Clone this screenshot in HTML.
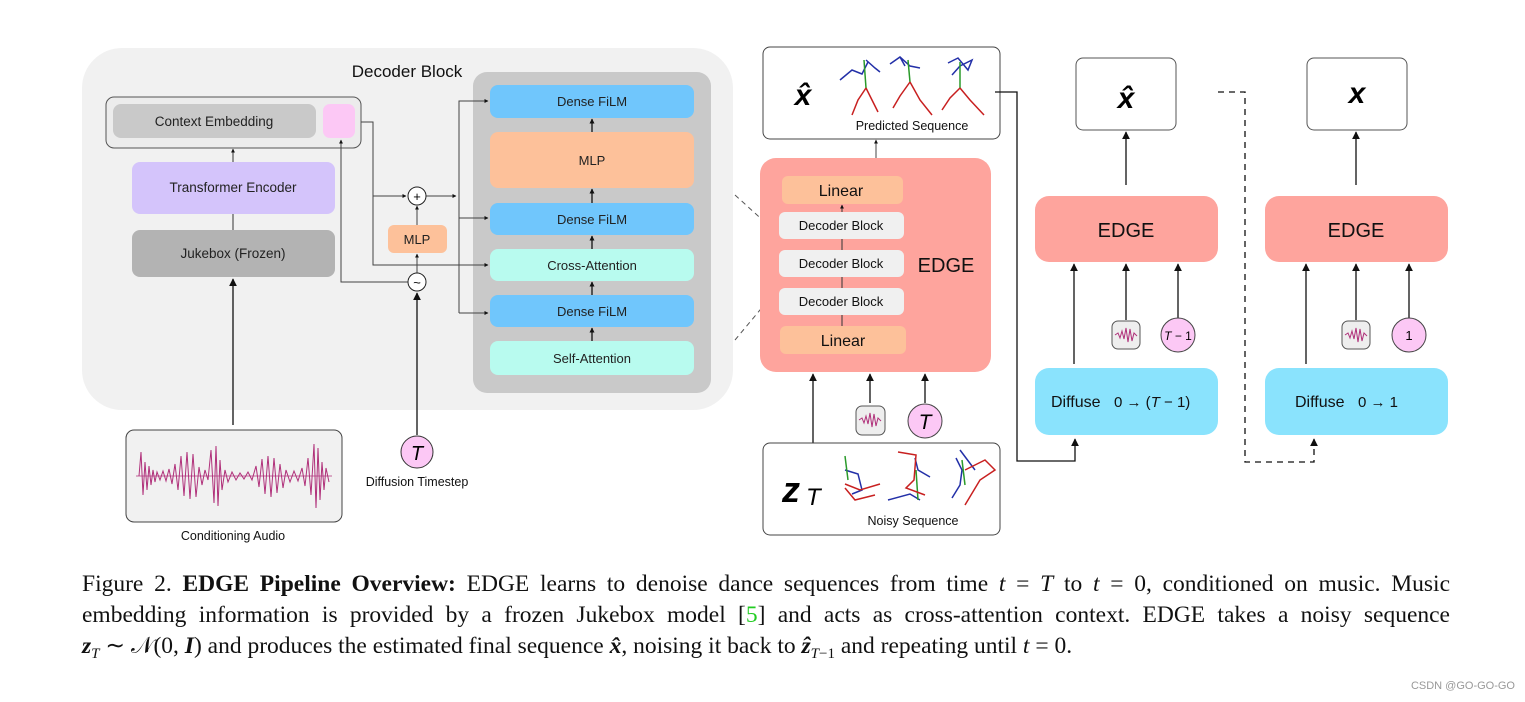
<!DOCTYPE html>
<html><head><meta charset="utf-8"><style>
html,body{margin:0;padding:0;background:#fff;width:1525px;height:702px;overflow:hidden}
svg{position:absolute;left:0;top:0}
text{font-family:"Liberation Sans",sans-serif}
.cap{position:absolute;left:82px;width:1368px;font-family:"Liberation Serif",serif;font-size:23.5px;line-height:28px;height:28px;white-space:nowrap;color:#111}
.j{text-align:justify;text-align-last:justify;white-space:normal}
.cap i{font-style:italic}
.cap sub{font-size:15px;vertical-align:0;position:relative;top:5px;line-height:0}
.wm{position:absolute;right:10px;top:680px;font-family:"Liberation Sans",sans-serif;font-size:11px;color:#999}
</style></head><body>
<svg width="1525" height="702" viewBox="0 0 1525 702">
<defs>
<marker id="a" viewBox="0 0 10 10" refX="9" refY="5" markerWidth="6" markerHeight="6" orient="auto-start-reverse"><path d="M0,0 L10,5 L0,10 z" fill="#111"/></marker>
<marker id="s" viewBox="0 0 10 10" refX="9" refY="5" markerWidth="4" markerHeight="4" orient="auto"><path d="M0,0 L10,5 L0,10 z" fill="#111"/></marker>
</defs>
<rect x="82" y="48" width="651" height="362" rx="40" fill="#f1f1f1"/>
<text x="407" y="77" font-size="17" text-anchor="middle" fill="#111">Decoder Block</text>
<rect x="106" y="97" width="255" height="51" rx="8" fill="#ececec" stroke="#555" stroke-width="1"/>
<rect x="113" y="104" width="203" height="34" rx="8" fill="#c9c9c9"/>
<text x="214" y="126" font-size="13.5" text-anchor="middle" fill="#222">Context Embedding</text>
<rect x="323" y="104" width="32" height="34" rx="7" fill="#fcc8f5"/>
<rect x="132" y="162" width="203" height="52" rx="8" fill="#d4c4fb"/>
<text x="233" y="192" font-size="13.5" text-anchor="middle" fill="#222">Transformer Encoder</text>
<rect x="132" y="230" width="203" height="47" rx="8" fill="#b3b3b3"/>
<text x="233" y="258" font-size="13.5" text-anchor="middle" fill="#222">Jukebox (Frozen)</text>
<line x1="233" y1="230" x2="233" y2="214" stroke="#333"/>
<line x1="233" y1="162" x2="233" y2="149" stroke="#333" marker-end="url(#s)"/>
<rect x="473" y="72" width="238" height="321" rx="14" fill="#c9c9c9"/>
<rect x="490" y="85" width="204" height="33" rx="8" fill="#70c6fc"/>
<text x="592" y="106" font-size="13" text-anchor="middle" fill="#222">Dense FiLM</text>
<rect x="490" y="132" width="204" height="56" rx="8" fill="#fdc19a"/>
<text x="592" y="165" font-size="13" text-anchor="middle" fill="#222">MLP</text>
<rect x="490" y="203" width="204" height="32" rx="8" fill="#70c6fc"/>
<text x="592" y="224" font-size="13" text-anchor="middle" fill="#222">Dense FiLM</text>
<rect x="490" y="249" width="204" height="32" rx="8" fill="#b8fbef"/>
<text x="592" y="270" font-size="13" text-anchor="middle" fill="#222">Cross-Attention</text>
<rect x="490" y="295" width="204" height="32" rx="8" fill="#70c6fc"/>
<text x="592" y="316" font-size="13" text-anchor="middle" fill="#222">Dense FiLM</text>
<rect x="490" y="341" width="204" height="34" rx="8" fill="#b8fbef"/>
<text x="592" y="363" font-size="13" text-anchor="middle" fill="#222">Self-Attention</text>
<g stroke="#111" stroke-width="1.3">
<line x1="592" y1="341" x2="592" y2="328" marker-end="url(#s)"/>
<line x1="592" y1="295" x2="592" y2="282" marker-end="url(#s)"/>
<line x1="592" y1="249" x2="592" y2="236" marker-end="url(#s)"/>
<line x1="592" y1="203" x2="592" y2="189" marker-end="url(#s)"/>
<line x1="592" y1="132" x2="592" y2="119" marker-end="url(#s)"/>
</g>
<rect x="388" y="225" width="59" height="28" rx="6" fill="#fdc19a"/>
<text x="417" y="244" font-size="13" text-anchor="middle" fill="#222">MLP</text>
<g stroke="#444" stroke-width="1" fill="none">
<polyline points="361,122 373,122 373,265 488,265" marker-end="url(#s)"/>
<polyline points="373,196 406,196" marker-end="url(#s)"/>
<polyline points="426,196 456,196" marker-end="url(#s)"/>
<polyline points="459,313 459,101 488,101"/>
<line x1="459" y1="101" x2="488" y2="101" marker-end="url(#s)"/>
<line x1="459" y1="218" x2="488" y2="218" marker-end="url(#s)"/>
<line x1="459" y1="313" x2="488" y2="313" marker-end="url(#s)"/>
<polyline points="408,282 341,282 341,140" marker-end="url(#s)"/>
<line x1="417" y1="273" x2="417" y2="254" marker-end="url(#s)"/>
<line x1="417" y1="225" x2="417" y2="206" marker-end="url(#s)"/>
</g>
<circle cx="417" cy="196" r="9" fill="#fff" stroke="#222"/>
<text x="417" y="201" font-size="13" text-anchor="middle">+</text>
<circle cx="417" cy="282" r="9" fill="#fff" stroke="#222"/>
<text x="417" y="287" font-size="13" text-anchor="middle">~</text>
<line x1="417" y1="435" x2="417" y2="293" stroke="#111" stroke-width="1.3" marker-end="url(#a)"/>
<line x1="233" y1="425" x2="233" y2="279" stroke="#111" stroke-width="1.3" marker-end="url(#a)"/>
<circle cx="417" cy="452" r="16" fill="#fcc8f5" stroke="#333"/>
<text x="417" y="460" font-size="20" text-anchor="middle" font-style="italic" font-family="Liberation Serif">T</text>
<text x="417" y="486" font-size="12.5" text-anchor="middle" fill="#111">Diffusion Timestep</text>
<rect x="126" y="430" width="216" height="92" rx="8" fill="#f1f1f1" stroke="#444"/>
<line x1="136" y1="476" x2="332" y2="476" stroke="#b0307a" stroke-width="0.8"/>
<polyline fill="none" stroke="#b0307a" stroke-width="1" points="139,476 141,452 143,495 145,462 147,490 149,466 151,485 153,470 155,482 157,472 160,480 163,471 166,481 169,469 172,484 175,464 178,490 181,456 184,496 187,452 190,499 193,454 196,497 199,467 202,485 205,470 208,480 211,450 214,503 216,446 218,506 220,460 222,490 225,470 228,482 232,472 236,480 240,473 244,479 248,472 252,480 256,466 259,487 262,459 265,494 268,456 271,497 274,458 277,493 280,464 283,488 286,470 290,482 294,471 298,481 302,468 305,486 308,458 311,495 314,444 316,508 318,448 320,500 322,462 324,490 326,468 329,482"/>
<text x="233" y="540" font-size="12.5" text-anchor="middle" fill="#111">Conditioning Audio</text>
<line x1="735" y1="195" x2="790" y2="245" stroke="#555" stroke-dasharray="5,4"/>
<line x1="735" y1="340" x2="785" y2="280" stroke="#555" stroke-dasharray="5,4"/>
<rect x="763" y="47" width="237" height="92" rx="7" fill="#fff" stroke="#444"/>
<text x="803" y="105" font-size="30" text-anchor="middle" font-weight="bold" font-style="italic" font-family="Liberation Serif">x̂</text>
<g fill="none" stroke-width="1.5">
<path d="M840,80 L852,70 L862,74 L868,62 M866,60 L875,68 L880,72" stroke="#2330a8"/>
<path d="M864,60 L866,88" stroke="#2a9a2a"/>
<path d="M866,88 L858,100 L852,115 M866,88 L872,100 L878,112" stroke="#c82020"/>
<path d="M890,64 L900,57 L910,66 L920,68 M900,57 L905,66" stroke="#2330a8"/>
<path d="M908,60 L910,82" stroke="#2a9a2a"/>
<path d="M910,82 L900,96 L893,108 M910,82 L920,100 L932,115" stroke="#c82020"/>
<path d="M948,63 L958,58 L968,70 L972,60 L960,66 L952,75" stroke="#2330a8"/>
<path d="M960,62 L960,88" stroke="#2a9a2a"/>
<path d="M960,88 L950,98 L942,110 M960,88 L970,100 L984,115" stroke="#c82020"/>
</g>
<text x="912" y="130" font-size="12.5" text-anchor="middle" fill="#111">Predicted Sequence</text>
<line x1="876" y1="158" x2="876" y2="140" stroke="#444" marker-end="url(#s)"/>
<rect x="760" y="158" width="231" height="214" rx="16" fill="#fea49d"/>
<rect x="782" y="176" width="121" height="28" rx="6" fill="#fdc19a"/>
<text x="841" y="196" font-size="16" text-anchor="middle" fill="#111">Linear</text>
<line x1="842" y1="212" x2="842" y2="205" stroke="#333" marker-end="url(#s)"/>
<line x1="842" y1="239" x2="842" y2="326" stroke="#333"/>
<rect x="779" y="212" width="125" height="27" rx="6" fill="#f0f0f0"/>
<text x="841" y="230" font-size="13" text-anchor="middle" fill="#111">Decoder Block</text>
<rect x="779" y="250" width="125" height="27" rx="6" fill="#f0f0f0"/>
<text x="841" y="268" font-size="13" text-anchor="middle" fill="#111">Decoder Block</text>
<rect x="779" y="288" width="125" height="27" rx="6" fill="#f0f0f0"/>
<text x="841" y="306" font-size="13" text-anchor="middle" fill="#111">Decoder Block</text>
<rect x="780" y="326" width="126" height="28" rx="6" fill="#fdc19a"/>
<text x="843" y="346" font-size="16" text-anchor="middle" fill="#111">Linear</text>
<text x="946" y="272" font-size="20" text-anchor="middle" fill="#111">EDGE</text>
<g stroke="#111" stroke-width="1.3">
<line x1="813" y1="443" x2="813" y2="374" marker-end="url(#a)"/>
<line x1="870" y1="403" x2="870" y2="374" marker-end="url(#a)"/>
<line x1="925" y1="403" x2="925" y2="374" marker-end="url(#a)"/>
</g>
<rect x="856" y="406" width="29" height="29" rx="6" fill="#eee" stroke="#555"/>
<polyline fill="none" stroke="#b0307a" points="859,420 862,418 864,423 866,416 868,424 870,413 872,427 874,414 876,426 878,418 881,421"/>
<circle cx="925" cy="421" r="17" fill="#fcc8f5" stroke="#444"/>
<text x="925" y="429" font-size="21" text-anchor="middle" font-style="italic" font-family="Liberation Serif">T</text>
<rect x="763" y="443" width="237" height="92" rx="7" fill="#fff" stroke="#444"/>
<text x="782" y="502" font-size="36" font-weight="bold" font-style="italic" font-family="Liberation Serif">z</text>
<text x="806" y="505" font-size="24" font-style="italic" font-family="Liberation Serif">T</text>
<g fill="none" stroke-width="1.5">
<path d="M845,470 L858,474 L862,490 L852,494 M915,458 L918,470 L930,477" stroke="#2330a8"/>
<path d="M888,500 L910,494 L920,500 M956,458 L962,470 L960,485 L952,498 M960,450 L975,470" stroke="#2330a8"/>
<path d="M845,456 L848,480" stroke="#2a9a2a"/><path d="M916,470 L918,500" stroke="#2a9a2a"/><path d="M962,460 L965,485" stroke="#2a9a2a"/>
<path d="M845,484 L860,490 L880,484 M845,488 L855,500 L875,495 M898,452 L916,455 L914,480 L906,488 L925,495 M965,470 L985,460 L995,470 L980,480 L965,505" stroke="#c82020"/>
</g>
<text x="913" y="525" font-size="12.5" text-anchor="middle" fill="#111">Noisy Sequence</text>
<polyline points="995,92 1017,92 1017,461 1075,461 1075,439" fill="none" stroke="#111" stroke-width="1.3" marker-end="url(#a)"/>
<polyline points="1218,92 1245,92 1245,462 1314,462 1314,439" fill="none" stroke="#111" stroke-width="1.3" stroke-dasharray="6,5" marker-end="url(#a)"/>
<rect x="1076" y="58" width="100" height="72" rx="7" fill="#fff" stroke="#555"/>
<text x="1126" y="108" font-size="30" text-anchor="middle" font-weight="bold" font-style="italic" font-family="Liberation Serif">x̂</text>
<rect x="1035" y="196" width="183" height="66" rx="14" fill="#fea49d"/>
<text x="1126" y="237" font-size="20" text-anchor="middle" fill="#111">EDGE</text>
<rect x="1035" y="368" width="183" height="67" rx="14" fill="#8ae3fd"/>
<text x="1051" y="407" font-size="16" fill="#111">Diffuse</text>
<text x="1114" y="407" font-size="15" fill="#111" font-family="Liberation Serif">0 → (<tspan font-style="italic">T</tspan> − 1)</text>
<g stroke="#111" stroke-width="1.3">
<line x1="1126" y1="185" x2="1126" y2="132" marker-end="url(#a)"/>
<line x1="1074" y1="364" x2="1074" y2="264" marker-end="url(#a)"/>
<line x1="1126" y1="320" x2="1126" y2="264" marker-end="url(#a)"/>
<line x1="1178" y1="318" x2="1178" y2="264" marker-end="url(#a)"/>
<line x1="1306" y1="364" x2="1306" y2="264" marker-end="url(#a)"/>
<line x1="1356" y1="320" x2="1356" y2="264" marker-end="url(#a)"/>
<line x1="1409" y1="318" x2="1409" y2="264" marker-end="url(#a)"/>
<line x1="1356" y1="185" x2="1356" y2="132" marker-end="url(#a)"/>
</g>
<rect x="1112" y="321" width="28" height="28" rx="6" fill="#eee" stroke="#555"/>
<polyline fill="none" stroke="#b0307a" points="1115,335 1118,333 1120,338 1122,331 1124,339 1126,328 1128,342 1130,329 1132,341 1134,333 1137,336"/>
<circle cx="1178" cy="335" r="17" fill="#fcc8f5" stroke="#444"/>
<text x="1178" y="340" font-size="12" text-anchor="middle" font-family="Liberation Serif"><tspan font-style="italic">T</tspan> − 1</text>
<rect x="1307" y="58" width="100" height="72" rx="7" fill="#fff" stroke="#555"/>
<text x="1357" y="103" font-size="30" text-anchor="middle" font-weight="bold" font-style="italic" font-family="Liberation Serif">x</text>
<rect x="1265" y="196" width="183" height="66" rx="14" fill="#fea49d"/>
<text x="1356" y="237" font-size="20" text-anchor="middle" fill="#111">EDGE</text>
<rect x="1265" y="368" width="183" height="67" rx="14" fill="#8ae3fd"/>
<text x="1295" y="407" font-size="16" fill="#111">Diffuse</text>
<text x="1358" y="407" font-size="15" fill="#111" font-family="Liberation Serif">0 → 1</text>
<rect x="1342" y="321" width="28" height="28" rx="6" fill="#eee" stroke="#555"/>
<polyline fill="none" stroke="#b0307a" points="1345,335 1348,333 1350,338 1352,331 1354,339 1356,328 1358,342 1360,329 1362,341 1364,333 1367,336"/>
<circle cx="1409" cy="335" r="17" fill="#fcc8f5" stroke="#444"/>
<text x="1409" y="340" font-size="13" text-anchor="middle" font-family="Liberation Serif">1</text>
</svg>
<div class="cap j" style="top:570px">Figure 2. <b>EDGE Pipeline Overview:</b> EDGE learns to denoise dance sequences from time <i>t</i> = <i>T</i> to <i>t</i> = 0, conditioned on music. Music</div>
<div class="cap j" style="top:601px">embedding information is provided by a frozen Jukebox model [<span style="color:#2c2">5</span>] and acts as cross-attention context. EDGE takes a noisy sequence</div>
<div class="cap" style="top:632px"><b><i>z</i></b><sub><i>T</i></sub> ∼ 𝒩(0, <b><i>I</i></b>) and produces the estimated final sequence <b><i>x̂</i></b>, noising it back to <b><i>ẑ</i></b><sub><i>T</i>−1</sub> and repeating until <i>t</i> = 0.</div>
<div class="wm">CSDN @GO-GO-GO</div>
</body></html>
